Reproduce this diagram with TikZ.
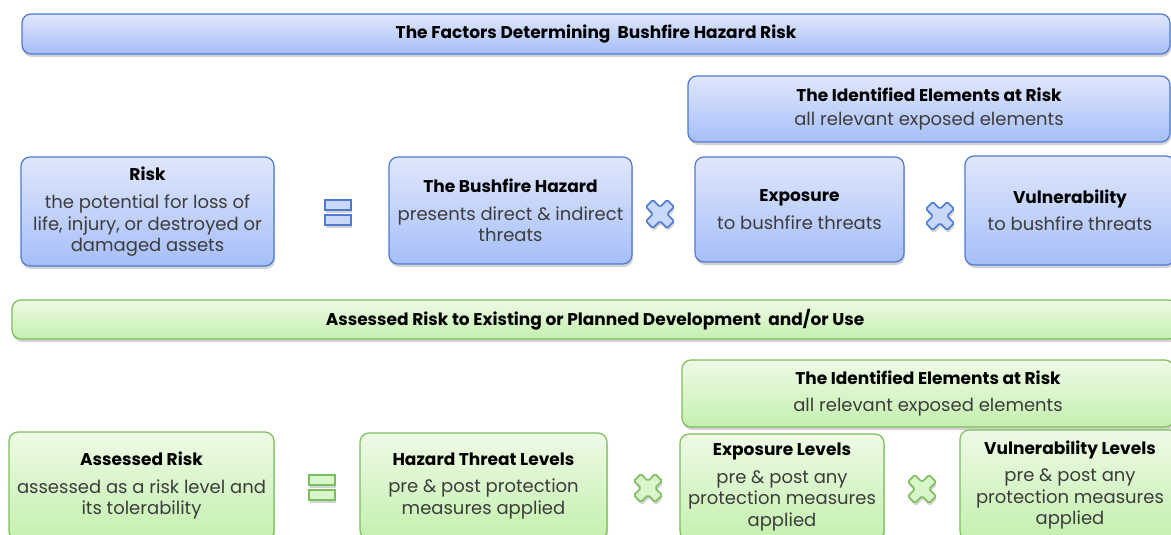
\documentclass[tikz,border=0pt]{standalone}
\usepackage{fontspec}
\setmainfont{Poppins}
\usetikzlibrary{shadows}
\usepackage{xcolor}
\definecolor{bluetop}{RGB}{224,231,252}
\definecolor{bluebot}{RGB}{166,190,248}
\definecolor{blueline}{RGB}{78,122,212}
\definecolor{greentop}{RGB}{238,250,230}
\definecolor{greenbot}{RGB}{196,240,174}
\definecolor{greenline}{RGB}{124,190,92}
\definecolor{bodygray}{RGB}{60,60,60}

\begin{document}
\begin{tikzpicture}[x=1pt, y=-1pt,
    bluebox/.style={rectangle, rounded corners=9pt, draw=blueline, line width=1.2pt,
                    top color=bluetop, bottom color=bluebot, align=center, inner sep=0pt,
                    font=\fontsize{18}{21.5}\selectfont\color{bodygray},
                    drop shadow={opacity=0.35, shadow xshift=1pt, shadow yshift=-3pt}},
    greenbox/.style={bluebox, draw=greenline, top color=greentop, bottom color=greenbot},
    blueop/.style={draw=blueline, line width=1.6pt, fill=bluetop!60!bluebot,
                   drop shadow={opacity=0.35, shadow xshift=1pt, shadow yshift=-3pt}},
    greenop/.style={blueop, draw=greenline, fill=greentop!50!greenbot},
]
\useasboundingbox (0,0) rectangle (1171,535);
\clip (0,0) rectangle (1171,535);

% Factors row
\node[bluebox, minimum width=1148pt, minimum height=40pt] (factors) at (596,34)
    {\bfseries\fontsize{17}{20}\selectfont\color{black}The Factors Determining\ \ Bushfire Hazard Risk};
\node[bluebox, minimum width=482pt, minimum height=66pt] (elements) at (929,109)
    {{\bfseries\fontsize{17}{20}\selectfont\color{black}The Identified Elements at Risk}\\[3pt]all relevant exposed elements};
\node[bluebox, minimum width=253pt, minimum height=109pt] (risk) at (147.5,211.5)
    {{\bfseries\fontsize{17}{20}\selectfont\color{black}Risk}\\[7pt]the potential for loss of\\life, injury, or destroyed or\\damaged assets};
\node[bluebox, minimum width=243pt, minimum height=107pt] (hazard) at (510.5,210.5)
    {{\bfseries\fontsize{17}{20}\selectfont\color{black}The Bushfire Hazard}\\[6pt]presents direct \& indirect\\threats};
\node[bluebox, minimum width=209pt, minimum height=105pt] (exposure) at (799.5,209.5)
    {{\bfseries\fontsize{17}{20}\selectfont\color{black}Exposure}\\[6pt]to bushfire threats};
\node[bluebox, minimum width=210pt, minimum height=109pt] (vuln) at (1070,210.5)
    {{\bfseries\fontsize{17}{20}\selectfont\color{black}Vulnerability}\\[6pt]to bushfire threats};

% Assessed row
\node[greenbox, minimum width=1166pt, minimum height=39pt] (assessed) at (595,319.5)
    {\bfseries\fontsize{17}{20}\selectfont\color{black}Assessed Risk to Existing or Planned Development\ \ and/or Use};
\node[greenbox, minimum width=492pt, minimum height=67pt] (elementsb) at (928,393.5)
    {{\bfseries\fontsize{17}{20}\selectfont\color{black}The Identified Elements at Risk}\\[5pt]all relevant exposed elements};
\node[greenbox, minimum width=265pt, minimum height=108pt] (arisk) at (141.5,486)
    {{\bfseries\fontsize{17}{20}\selectfont\color{black}Assessed Risk}\\[6pt]assessed as a risk level and\\its tolerability};
\node[greenbox, minimum width=247pt, minimum height=106pt] (threat) at (483.5,486)
    {{\bfseries\fontsize{17}{20}\selectfont\color{black}Hazard Threat Levels}\\[6pt]pre \& post protection\\measures applied};
\node[greenbox, minimum width=204pt, minimum height=106pt] (explevels) at (782,487)
    {{\bfseries\fontsize{17}{20}\selectfont\color{black}Exposure Levels}\\[6pt]pre \& post any\\protection measures\\applied};
\node[greenbox, minimum width=220pt, minimum height=110pt] (vulnlevels) at (1070,485)
    {{\bfseries\fontsize{17}{20}\selectfont\color{black}Vulnerability Levels}\\[6pt]pre \& post any\\protection measures\\applied};

% Equals signs
\foreach \cx/\cy/\s in {338/213/blueop, 322/488/greenop} {
    \draw[\s] (\cx-13,\cy-13) rectangle ++(26,10);
    \draw[\s] (\cx-13,\cy+2) rectangle ++(26,10);
}

% Times signs
\foreach \cx/\cy/\s in {660/214/blueop, 940/216/blueop, 648/488/greenop, 922/489/greenop} {
    \draw[\s, rounded corners=1.5pt, shift={(\cx,\cy)}, rotate=45]
        (-5,-15) -- (5,-15) -- (5,-5) -- (15,-5) -- (15,5) -- (5,5) -- (5,15)
        -- (-5,15) -- (-5,5) -- (-15,5) -- (-15,-5) -- (-5,-5) -- cycle;
}

\end{tikzpicture}
\end{document}
